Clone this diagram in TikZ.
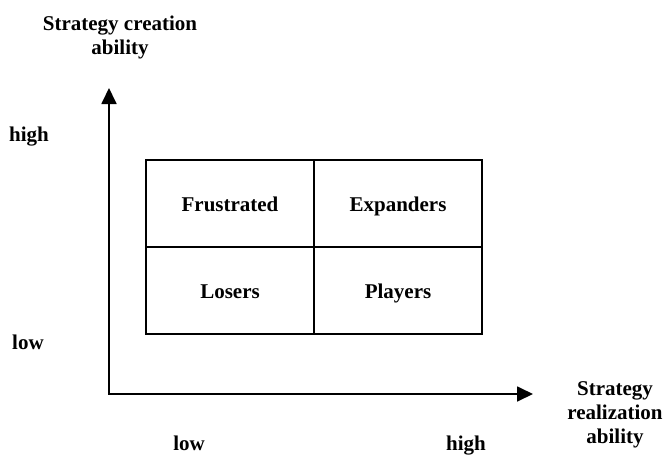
\documentclass[tikz,border=0pt]{standalone}
\usepackage{fontspec}
\setmainfont{Liberation Serif}
\usetikzlibrary{arrows.meta}
\begin{document}
\begin{tikzpicture}[x=1pt,y=-1pt,
  lbl/.style={font=\fontsize{21}{24}\selectfont\bfseries, align=center, inner sep=0pt},
  word/.style={lbl, text height=14pt, text depth=4pt},
  cell/.style={draw, line width=1.6pt, minimum width=168pt, minimum height=87pt, inner sep=0pt, outer sep=0pt,
    text height=17pt, text depth=2pt, font=\fontsize{21}{24}\selectfont\bfseries},
  axis/.style={line width=1.8pt, -{Triangle[length=16pt,width=15pt]}}]
\useasboundingbox (0,0) rectangle (664,455);
\node[cell] (fr) at (230,203.5) {Frustrated};
\node[cell] (ex) at (398,203.5) {Expanders};
\node[cell] (lo) at (230,290.5) {Losers};
\node[cell] (pl) at (398,290.5) {Players};
\coordinate (o) at (109,394);
\coordinate (ytop) at (109,88);
\coordinate (xend) at (533,394);
\draw[axis] (o) -- (ytop);
\draw[axis] ([xshift=-0.9pt]o) -- (xend);
\node[lbl] (yt) at (120,37.5) {Strategy creation\\ability};
\node[word] (yh) at (29,136) {high};
\node[word] (yl) at (28,344) {low};
\node[word] (xl) at (189,445) {low};
\node[word] (xh) at (466,445) {high};
\node[lbl] (xt) at (615,414.5) {Strategy\\realization\\ability};
\end{tikzpicture}
\end{document}
